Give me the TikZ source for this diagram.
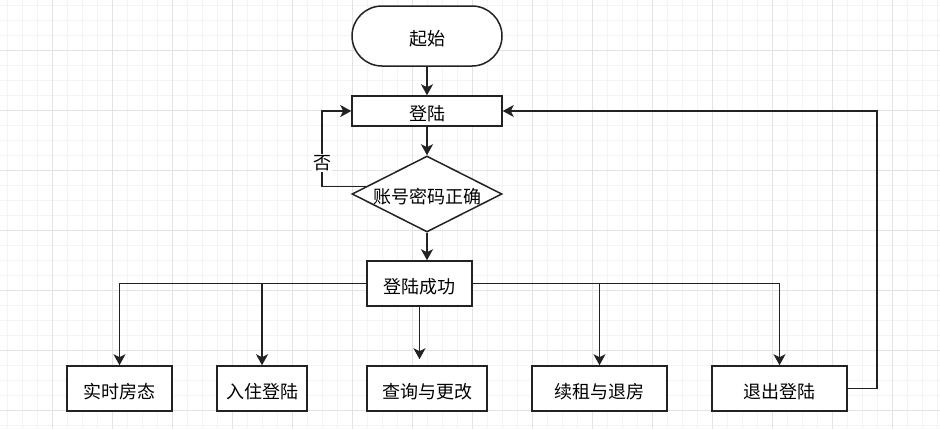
\documentclass[tikz,border=0pt]{standalone}
\usepackage{fontspec}
\newfontfamily\cjk{Noto Sans CJK SC}
\usetikzlibrary{arrows.meta,shapes.geometric}
\definecolor{ln}{HTML}{222222}
\definecolor{gmaj}{HTML}{E3E3E3}
\definecolor{gmin}{HTML}{F4F4F4}
\tikzset{
  box/.style={draw=ln, line width=1.5pt, fill=white, rectangle, inner sep=0pt,
    text height=21pt, text depth=2pt,
    font=\cjk\fontsize{18pt}{20pt}\selectfont, text=black},
  term/.style={box, rounded corners=30pt, minimum width=150pt, minimum height=60pt},
  dec/.style={box, diamond, aspect=2, inner sep=-3pt, minimum width=150pt, minimum height=76pt},
  arr/.style={draw=ln, line width=1.5pt, -{Stealth[length=11pt,width=12pt,inset=3pt]}},
  lbl/.style={fill=white, inner sep=1pt, font=\cjk\fontsize{18pt}{20pt}\selectfont}
}
\begin{document}
\begin{tikzpicture}[x=1pt,y=-1pt]
\useasboundingbox (0,0) rectangle (940,429);
\fill[white] (0,0) rectangle (940,429);
% grid
\foreach \x in {7,22,...,937} \draw[gmin, line width=0.8pt] (\x,0) -- (\x,429);
\foreach \y in {5,20,...,425} \draw[gmin, line width=0.8pt] (0,\y) -- (940,\y);
\foreach \x in {52,112,...,937} \draw[gmaj, line width=0.9pt] (\x,0) -- (\x,429);
\foreach \y in {50,110,...,425} \draw[gmaj, line width=0.9pt] (0,\y) -- (940,\y);

\node[term] (start) at (427,36) {起始};
\node[box, minimum width=150pt, minimum height=30pt] (login) at (427,111) {登陆};
\node[dec] (dia) at (427,194) {账号密码正确};
\node[box, minimum width=105pt, minimum height=45pt] (succ) at (419.5,283.5) {登陆成功};
\node[box, minimum width=105pt, minimum height=45pt] (b1) at (119.5,388.5) {实时房态};
\node[box, minimum width=90pt, minimum height=45pt] (b2) at (262,388.5) {入住登陆};
\node[box, minimum width=120pt, minimum height=45pt] (b3) at (427,388.5) {查询与更改};
\node[box, minimum width=135pt, minimum height=45pt] (b4) at (599.5,388.5) {续租与退房};
\node[box, minimum width=135pt, minimum height=45pt] (b5) at (779.5,388.5) {退出登陆};

\coordinate (lp) at (322,0);
\coordinate (rp) at (877,0);

\draw[arr] (start.south) -- (login.north);
\draw[arr] (login.south) -- (dia.north);
\draw[arr] (dia.south) -- (dia.south |- succ.north);
\draw[arr] (dia.173) -- (dia.173 -| lp) -- (lp |- login.west) -- (login.west);
\node[lbl] (no) at (322,163) {否};

\draw[arr] (succ.west) -| (b1.north);
\draw[arr] (succ.west) -| (b2.north);
\draw[arr] (succ.east) -| (b4.north);
\draw[arr] (succ.east) -| (b5.north);
\draw[arr, shorten >=6pt] (succ.south) -- (succ.south |- b3.north);
\draw[arr] (b5.east) -- (b5.east -| rp) -- (rp |- login.east) -- (login.east);
\end{tikzpicture}
\end{document}
